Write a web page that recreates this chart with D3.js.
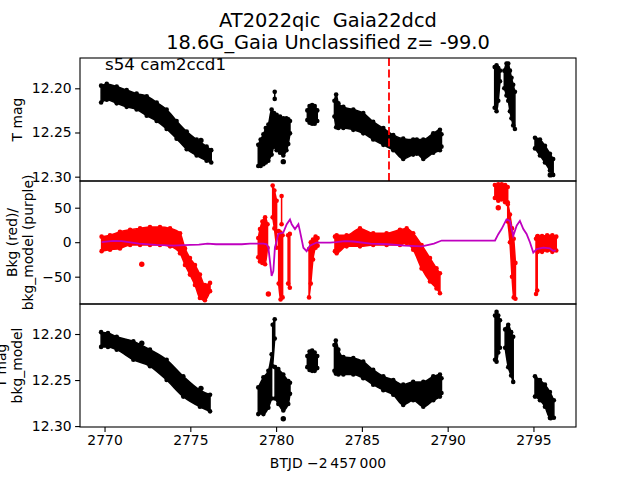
<!DOCTYPE html>
<html>
<head>
<meta charset="utf-8">
<title>AT2022qic light curve</title>
<style>
body { margin: 0; background: #fff; }
svg text { font-family: "DejaVu Sans", sans-serif; fill: #000; white-space: pre; }
.tick text { font-size: 13.9px; }
</style>
</head>
<body>
<svg width="640" height="480"></svg>
<script src="https://cdn.jsdelivr.net/npm/d3@7"></script>
<script>

// ---- data (BTJD, values) ----
// blobs are [t, lo, hi] spans of the dense scatter
var xTicks = [2770, 2775, 2780, 2785, 2790, 2795];
var magTicks = [12.20, 12.25, 12.30];
var bkgTicks = [50, 0, -50];
var tDiscovery = 2786.58;

var topBlobs = [
  [[2769.80,12.197,12.216],[2770.13,12.195,12.213],[2770.71,12.198,12.217],[2771.29,12.202,12.221],[2771.87,12.206,12.224],[2772.46,12.209,12.231],[2773.04,12.216,12.237],[2773.62,12.224,12.246],[2774.20,12.237,12.257],[2774.79,12.249,12.269],[2775.37,12.258,12.276],[2775.95,12.266,12.282],[2776.22,12.270,12.284]],
  [[2778.96,12.264,12.288],[2779.10,12.258,12.288],[2779.26,12.252,12.286],[2779.40,12.245,12.284],[2779.55,12.241,12.282],[2779.74,12.224,12.275],[2779.88,12.228,12.266],[2780.03,12.230,12.270],[2780.23,12.232,12.273],[2780.42,12.234,12.276],[2780.60,12.234,12.270],[2780.71,12.235,12.263],[2780.81,12.237,12.251]],
  [[2779.92,12.204,12.212]],
  [[2781.82,12.225,12.236],[2781.95,12.220,12.239],[2782.10,12.219,12.240],[2782.25,12.220,12.240],[2782.40,12.225,12.237]],
  [[2783.40,12.214,12.232],[2783.50,12.207,12.244],[2783.63,12.217,12.245],[2783.92,12.221,12.245],[2784.50,12.224,12.247],[2785.08,12.228,12.251],[2785.66,12.238,12.258],[2786.25,12.245,12.264],[2786.83,12.253,12.270],[2787.41,12.257,12.280],[2787.99,12.258,12.275],[2788.20,12.258,12.274],[2788.58,12.258,12.280],[2789.16,12.251,12.273],[2789.55,12.247,12.270],[2789.64,12.252,12.266]],
  [[2792.74,12.176,12.222],[2792.85,12.174,12.226],[2792.95,12.177,12.214],[2793.05,12.180,12.192]],
  [[2793.30,12.180,12.200],[2793.43,12.172,12.208],[2793.53,12.172,12.214],[2793.63,12.180,12.226],[2793.72,12.188,12.234],[2793.82,12.196,12.242],[2793.92,12.204,12.246]],
  [[2795.09,12.256,12.268],[2795.38,12.258,12.276],[2795.67,12.265,12.284],[2795.96,12.274,12.293],[2796.15,12.280,12.298]]
];
var topSingles = [[2772.17,12.210],[2775.62,12.259],[2780.42,12.283],[2795.98,12.298]];

var bkgBlobs = [
  [[2769.83,8,-13],[2770.32,10,-11],[2770.90,15,-9],[2771.49,18,-4],[2772.07,20,-4],[2772.65,22,-4],[2773.23,22,-4],[2773.82,20,-6],[2774.40,13,-16],[2774.69,-9,-33],[2774.98,-23,-47],[2775.27,-33,-62],[2775.56,-47,-81],[2775.85,-62,-84],[2776.15,-59,-71]],
  [[2778.96,6,-22],[2779.06,19,-28],[2779.20,30,-30],[2779.36,36,-32],[2779.50,26,-8]],
  [[2779.80,82,36],[2779.90,75,20],[2780.03,60,-8]],
  [[2780.15,16,-60],[2780.26,14,-83],[2780.38,10,-80]],
  [[2780.32,67,26]],
  [[2780.70,10,-60],[2780.80,12,-66]],
  [[2781.92,-10,-80],[2782.02,0,-60],[2782.15,4,-25],[2782.30,8,-8],[2782.42,6,-5]],
  [[2783.43,8,-13],[2783.53,10,-16],[2784.11,10,-6],[2784.89,20,-6],[2785.66,13,-4],[2786.44,13,-4],[2787.22,18,-4],[2787.61,20,-1],[2787.99,13,-11],[2788.48,-4,-38],[2788.97,-23,-57],[2789.35,-38,-67],[2789.55,-45,-74]],
  [[2792.75,83,64],[2792.95,84,60],[2793.15,84,62],[2793.35,83,58],[2793.50,80,55]],
  [[2793.50,58,30],[2793.63,40,0],[2793.75,20,-50],[2793.85,5,-80],[2793.95,-30,-82]],
  [[2795.15,5,-75],[2795.22,8,-70]],
  [[2795.25,9,-14],[2795.50,9,-14],[2795.80,10,-12],[2796.10,10,-14],[2796.33,8,-12]]
];
var bkgSingles = [[2772.17,-32],[2779.55,-75],[2792.95,50]];

var bkgModel = [[2769.83,0],[2770.5,2],[2771.0,1.5],[2772.0,-2],[2773.0,-4],[2774.0,-5],[2775.0,-4],[2775.5,-3.5],[2776.0,-2],[2776.5,-3],[2777.0,-3],[2778.0,-3],[2778.48,-2],[2779.26,-2],[2779.45,-3],[2779.55,-8],[2779.74,-49],[2779.84,-42],[2779.93,-8],[2780.13,12],[2780.42,14],[2780.62,26],[2780.81,33],[2780.91,26],[2781.10,19],[2781.30,26],[2781.39,16],[2781.59,-8],[2781.78,-13],[2781.97,-5],[2782.36,-0.5],[2783.14,-0.5],[2783.5,0],[2784.0,1.5],[2784.5,1],[2785.5,-2],[2786.5,-3],[2787.5,-5],[2788.5,-6],[2789.2,-2],[2789.65,2.4],[2792.76,2.4],[2792.95,11.6],[2793.14,19],[2793.43,33],[2793.63,31],[2793.82,9],[2794.02,24],[2794.21,31],[2794.41,19],[2794.60,12],[2794.80,-0.5],[2794.99,-15],[2795.19,-10],[2795.57,-8],[2795.96,-9],[2796.15,-12.6],[2796.30,-12]];

var botBlobs = [
  [[2769.80,12.198,12.214],[2770.20,12.199,12.214],[2770.71,12.203,12.217],[2771.68,12.208,12.228],[2772.65,12.217,12.235],[2773.62,12.228,12.250],[2774.59,12.246,12.268],[2775.56,12.261,12.279],[2776.15,12.266,12.284]],
  [[2778.96,12.258,12.287],[2779.26,12.247,12.287],[2779.55,12.240,12.280],[2779.74,12.222,12.270]],
  [[2779.80,12.190,12.235],[2779.92,12.184,12.205]],
  [[2779.94,12.236,12.270],[2780.13,12.238,12.276],[2780.42,12.244,12.283],[2780.71,12.251,12.276],[2780.81,12.253,12.265]],
  [[2781.82,12.224,12.236],[2781.95,12.219,12.239],[2782.10,12.218,12.240],[2782.25,12.220,12.240],[2782.40,12.224,12.237]],
  [[2783.40,12.212,12.240],[2783.48,12.207,12.243],[2783.63,12.217,12.244],[2783.92,12.225,12.244],[2784.50,12.226,12.244],[2785.08,12.230,12.248],[2785.66,12.239,12.255],[2786.25,12.246,12.261],[2786.83,12.250,12.266],[2787.41,12.255,12.277],[2787.99,12.252,12.272],[2788.58,12.252,12.279],[2789.16,12.246,12.272],[2789.55,12.244,12.268],[2789.64,12.248,12.264]],
  [[2792.76,12.180,12.228],[2792.85,12.176,12.230],[2792.95,12.180,12.220],[2793.05,12.185,12.215]],
  [[2793.35,12.195,12.215],[2793.53,12.190,12.236],[2793.70,12.198,12.245],[2793.82,12.203,12.252]],
  [[2795.09,12.246,12.268],[2795.38,12.250,12.272],[2795.67,12.255,12.279],[2795.96,12.263,12.291],[2796.19,12.272,12.291]]
];
var botSingles = [[2772.17,12.210],[2775.62,12.259],[2780.42,12.292],[2796.0,12.291]];

// ---- layout ----
var svg = d3.select("svg");
var left = 80, right = 576;
var panels = [
  {top: 58,  bot: 181, dom: [12.1657, 12.3049]},
  {top: 181, bot: 304, dom: [88.7, -89.6]},
  {top: 304, bot: 427, dom: [12.1674, 12.301]}
];

var x = d3.scaleLinear().domain([2768.57, 2797.48]).range([left, right]);
panels.forEach(function(p) {
  p.y = d3.scaleLinear().domain(p.dom).range([p.top, p.bot]);
});

function blobs(g, list, y, color) {
  list.forEach(function(c) {
    var area = d3.area()
        .x(function(d) { return x(d[0]); })
        .y0(function(d) { return y(d[1]); })
        .y1(function(d) { return y(d[2]); })
        .curve(c.length > 2 ? d3.curveMonotoneX : d3.curveLinear);
    g.append("path").datum(c)
        .attr("d", area)
        .attr("fill", color)
        .attr("stroke", color)
        .attr("stroke-width", 1.5)
        .attr("stroke-linejoin", "round");
    var ends = [];
    c.forEach(function(d) { ends.push([d[0], d[1]]); ends.push([d[0], d[2]]); });
    g.selectAll(null).data(ends).enter().append("circle")
        .attr("cx", function(d) { return x(d[0]); })
        .attr("cy", function(d) { return y(d[1]); })
        .attr("r", 2.3)
        .attr("fill", color);
  });
}

function singles(g, list, y, color) {
  g.selectAll(null).data(list).enter().append("circle")
      .attr("cx", function(d) { return x(d[0]); })
      .attr("cy", function(d) { return y(d[1]); })
      .attr("r", 2.7)
      .attr("fill", color);
}

// clip each panel
var defs = svg.append("defs");
panels.forEach(function(p, i) {
  defs.append("clipPath").attr("id", "clip" + i).append("rect")
      .attr("x", left).attr("y", p.top).attr("width", right - left).attr("height", p.bot - p.top);
});

var g0 = svg.append("g").attr("clip-path", "url(#clip0)");
blobs(g0, topBlobs, panels[0].y, "#000");
singles(g0, topSingles, panels[0].y, "#000");
g0.append("line")
    .attr("x1", x(tDiscovery)).attr("x2", x(tDiscovery))
    .attr("y1", panels[0].top).attr("y2", panels[0].bot)
    .attr("stroke", "#ff0000").attr("stroke-width", 1.8)
    .attr("stroke-dasharray", "8,3.5");

var g1 = svg.append("g").attr("clip-path", "url(#clip1)");
blobs(g1, bkgBlobs, panels[1].y, "#ff0000");
singles(g1, bkgSingles, panels[1].y, "#ff0000");
g1.append("path").datum(bkgModel)
    .attr("d", d3.line()
        .x(function(d) { return x(d[0]); })
        .y(function(d) { return panels[1].y(d[1]); }))
    .attr("fill", "none")
    .attr("stroke", "#bf00bf")
    .attr("stroke-width", 1.8);

var g2 = svg.append("g").attr("clip-path", "url(#clip2)");
blobs(g2, botBlobs, panels[2].y, "#000");
singles(g2, botSingles, panels[2].y, "#000");

// axes
function styleAxis(a) {
  a.select(".domain").remove();
  a.selectAll(".tick line").attr("stroke", "#000").attr("stroke-width", 1.1);
}

[[0, magTicks, d3.format(".2f")], [1, bkgTicks, d3.format("d")], [2, magTicks, d3.format(".2f")]].forEach(function(s) {
  var p = panels[s[0]];
  var a = svg.append("g").attr("transform", "translate(" + left + ",0)")
      .call(d3.axisLeft(p.y).tickValues(s[1]).tickFormat(s[2]).tickSize(4.9).tickPadding(3.5));
  styleAxis(a);
  svg.append("rect")
      .attr("x", left).attr("y", p.top)
      .attr("width", right - left).attr("height", p.bot - p.top)
      .attr("fill", "none").attr("stroke", "#000").attr("stroke-width", 1.1);
});

var ax = svg.append("g").attr("transform", "translate(0," + panels[2].bot + ")")
    .call(d3.axisBottom(x).tickValues(xTicks).tickFormat(d3.format("d")).tickSize(4.9).tickPadding(3.5));
styleAxis(ax);

// texts
svg.append("text").attr("x", 328).attr("y", 27).attr("text-anchor", "middle")
    .style("font-size", "19.4px").text("AT2022qic  Gaia22dcd");
svg.append("text").attr("x", 328).attr("y", 49).attr("text-anchor", "middle")
    .style("font-size", "19.4px").text("18.6G_Gaia Unclassified z= -99.0");
svg.append("text").attr("x", 105).attr("y", 70)
    .style("font-size", "16.7px").text("s54 cam2ccd1");
svg.append("text").attr("x", 328).attr("y", 468).attr("text-anchor", "middle")
    .style("font-size", "13.9px").text("BTJD \u22122\u2009457\u2009000");

function ylabel(lines, cx, cy) {
  lines.forEach(function(t, i) {
    svg.append("text")
        .attr("transform", "translate(" + (cx[i]) + "," + cy + ") rotate(-90)")
        .attr("text-anchor", "middle")
        .attr("dy", "0.35em")
        .style("font-size", "13.9px")
        .text(t);
  });
}
ylabel(["T mag"], [17], 119.5);
ylabel(["Bkg (red)/", "bkg_model (purple)"], [12, 28], 242.5);
// first line sits partly off the left edge, as in the reference
ylabel(["T mag", "bkg_model"], [1, 17.5], 365.5);

</script>
</body>
</html>
